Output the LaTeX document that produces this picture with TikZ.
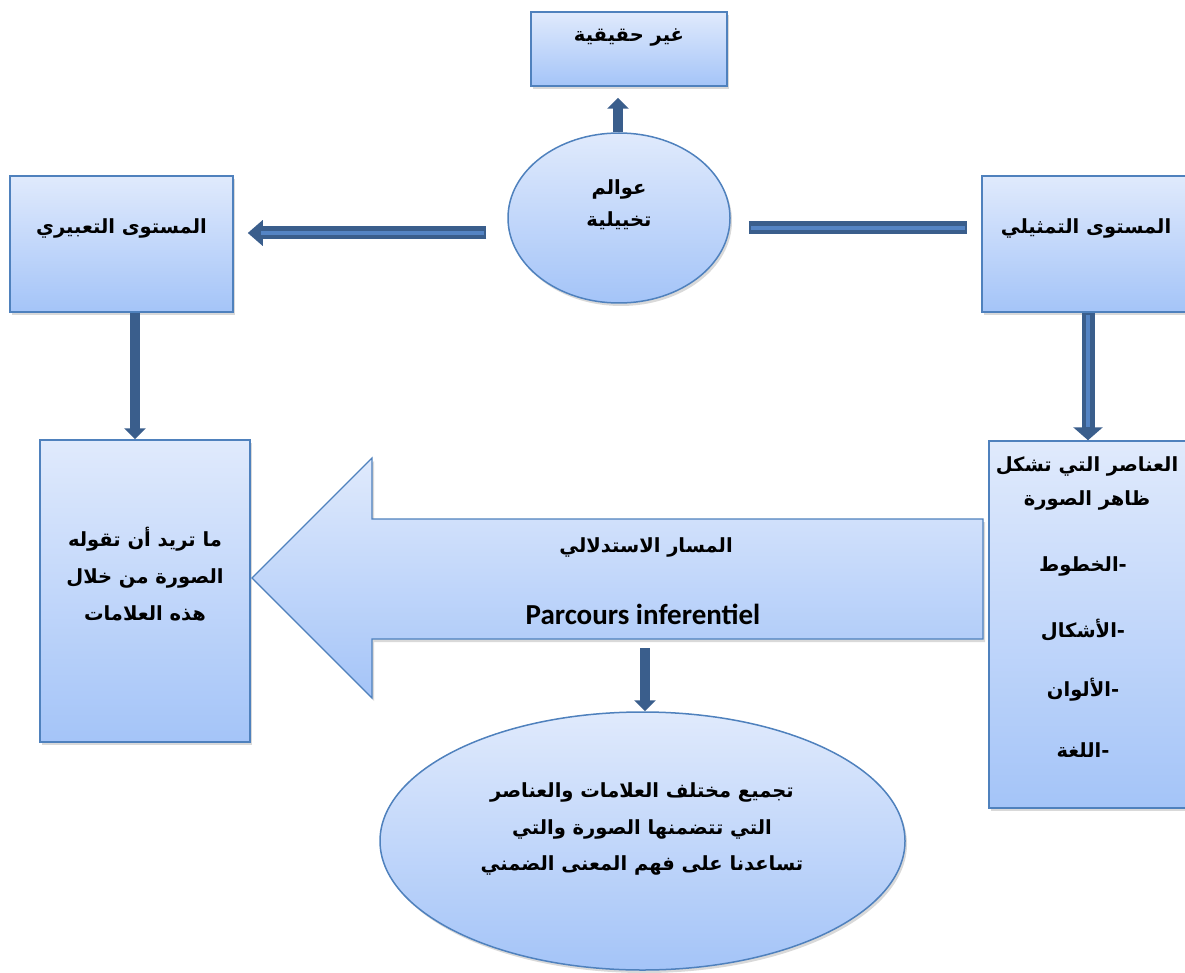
\documentclass[tikz,border=0pt]{standalone}
\usepackage{fontspec}
\TeXXeTstate=1
\setmainfont{Carlito}
\newfontfamily\arabicfont[Script=Arabic]{DejaVu Sans}
\usetikzlibrary{shapes.geometric,shadows,arrows.meta,calc}
\definecolor{boxtop}{RGB}{224,234,252}
\definecolor{boxbot}{RGB}{164,196,248}
\definecolor{boxline}{RGB}{79,129,189}
\definecolor{arrdark}{RGB}{58,94,140}
\definecolor{arrlight}{RGB}{84,132,196}
\newcommand{\AR}[1]{\beginR #1\endR}
\begin{document}
\begin{tikzpicture}[x=1pt,y=-1pt,
  shad/.style={drop shadow={shadow xshift=2pt,shadow yshift=-3pt,opacity=0.3}},
  box/.style={rectangle, draw=boxline, line width=1.5pt, top color=boxtop, bottom color=boxbot, inner sep=0pt, shad},
  oval/.style={ellipse, draw=boxline, line width=1.5pt, top color=boxtop, bottom color=boxbot, inner sep=0pt, shad},
  artxt/.style={font=\arabicfont\bfseries\fontsize{19.5}{34}\selectfont, align=center, inner sep=0pt},
  solidarr/.style={draw=arrdark, line width=10pt, -{Triangle[length=11pt,width=21pt]}},
  dblout/.style={draw=arrdark, line width=13pt},
  dblin/.style={draw=arrlight, line width=4.5pt},
]
\useasboundingbox (0,0) rectangle (1185,973);
\clip (0,0) rectangle (1185,973);

% boxes and ovals
\node[box, minimum width=196pt, minimum height=74pt] (top) at (629,49) {};
\node[oval, minimum width=222pt, minimum height=170pt] (ell1) at (619,218) {};
\node[box, minimum width=223pt, minimum height=136pt] (lbox) at (121.5,244) {};
\node[box, minimum width=208pt, minimum height=136pt] (rbox) at (1086,244) {};
\node[box, minimum width=210pt, minimum height=302pt] (llbox) at (145,591) {};
\node[box, minimum width=201pt, minimum height=367pt] (rlbox) at (1089.5,624.5) {};
\node[oval, minimum width=525pt, minimum height=258pt] (ell2) at (642.5,841) {};

% big block arrow
\path[draw=boxline, line width=1.2pt, top color=boxtop, bottom color=boxbot, shad]
  (983,519) -- (372,519) -- (372,458) -- (252,578) -- (372,698) -- (372,639) -- (983,639) -- cycle;
\coordinate (bigbot) at (645,639);

% texts
\node[artxt] (ttop) at (629,38) {\AR{غير حقيقية}};
\node[artxt] (tell1) at (619,205) {\AR{عوالم}\\[-2pt]\AR{تخييلية}};
\node[artxt] (tlbox) at (121.5,228) {\AR{المستوى التعبيري}};
\node[artxt] (trbox) at (1086,228) {\AR{المستوى التمثيلي}};
\node[artxt, font=\arabicfont\bfseries\fontsize{19.5}{37}\selectfont] (tllbox) at (145,574) {\AR{ما تريد أن تقوله}\\\AR{الصورة من خلال}\\\AR{هذه العلامات}};
\node[artxt] (tbig1) at (646,547) {\AR{المسار الاستدلالي}};
\node[font=\bfseries\fontsize{29}{32}\selectfont, inner sep=0pt] (tbig2) at (643,614) {Parcours inferentiel};
\node[artxt, font=\arabicfont\bfseries\fontsize{19.5}{36.5}\selectfont] (tell2) at (642,829) {\AR{تجميع مختلف العلامات والعناصر}\\\AR{التي تتضمنها الصورة والتي}\\\AR{تساعدنا على فهم المعنى الضمني}};
\node[artxt] (tr1) at (1087,466) {\AR{العناصر التي تشكل}};
\node[artxt] (tr2) at (1087,500) {\AR{ظاهر الصورة}};
\node[artxt] (tr3) at (1083,566) {\AR{الخطوط}\mbox{-}};
\node[artxt] (tr4) at (1083,630) {\AR{الأشكال}\mbox{-}};
\node[artxt] (tr5) at (1083,690) {\AR{الألوان}\mbox{-}};
\node[artxt] (tr6) at (1083,750) {\AR{اللغة}\mbox{-}};

% helper coordinates for connector lines
\coordinate (y233) at (0,233);
\coordinate (y228) at (0,228);
\coordinate (x135) at (135,0);
\coordinate (x1088) at (1088,0);

% connectors
\draw[solidarr, shorten >=11pt] (ell1.north -| 618,0) -- (top.south -| 618,0);
\draw[solidarr] (lbox.south -| x135) -- (llbox.north -| x135);
\draw[solidarr, shorten <=9pt] (bigbot) -- (ell2.north -| bigbot);

\draw[dblout, shorten <=21pt, shorten >=14pt, -{Triangle[length=15pt,width=25pt]}] (ell1.west |- y233) -- (lbox.east |- y233);
\draw[dblin, shorten <=23pt, shorten >=27pt] (ell1.west |- y233) -- (lbox.east |- y233);

\draw[dblout, shorten <=18pt, shorten >=14pt] (ell1.east |- y228) -- (rbox.west |- y228);
\draw[dblin, shorten <=20pt, shorten >=16pt] (ell1.east |- y228) -- (rbox.west |- y228);

\draw[dblout, -{Triangle[length=13pt,width=29pt]}] (rbox.south -| x1088) -- (rlbox.north -| x1088);
\draw[dblin, shorten <=2pt, shorten >=13pt] (rbox.south -| x1088) -- (rlbox.north -| x1088);
\end{tikzpicture}
\end{document}
